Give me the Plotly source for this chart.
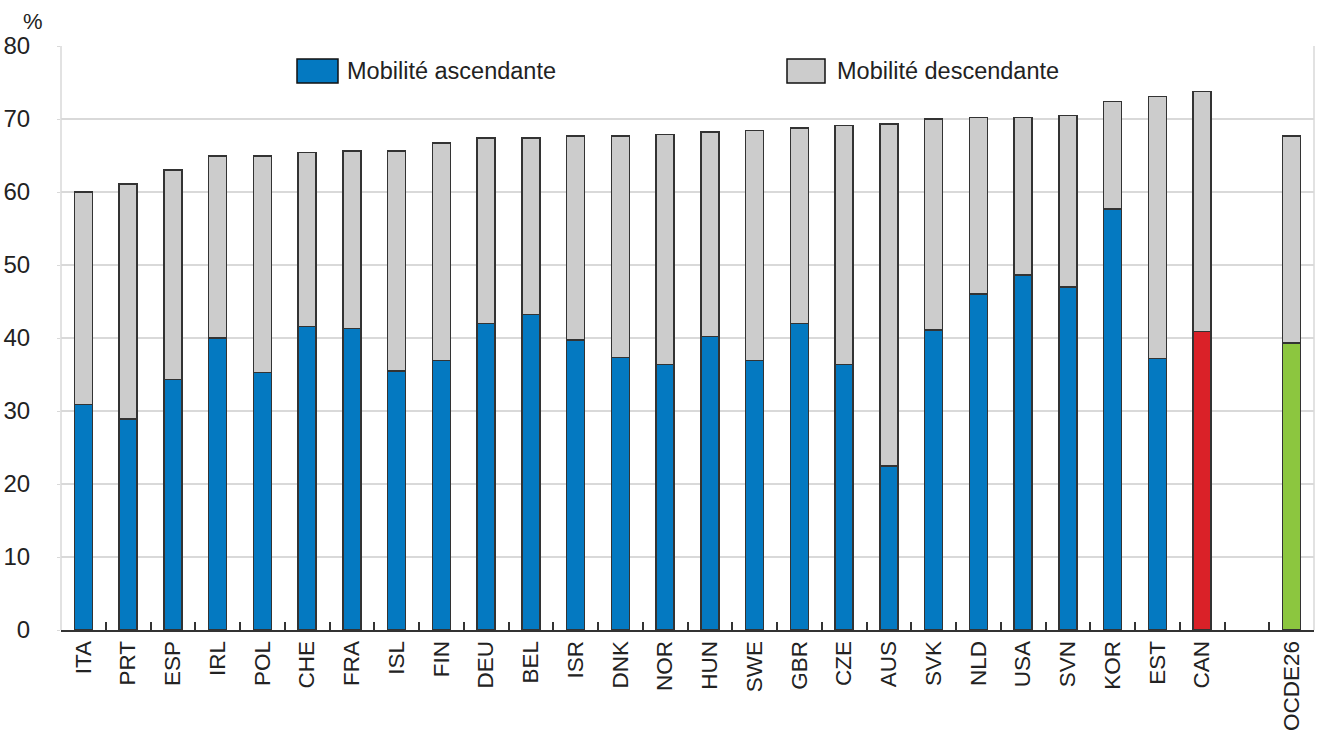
import plotly.graph_objects as go

categories = ["ITA", "PRT", "ESP", "IRL", "POL", "CHE", "FRA", "ISL", "FIN", "DEU",
              "BEL", "ISR", "DNK", "NOR", "HUN", "SWE", "GBR", "CZE", "AUS", "SVK",
              "NLD", "USA", "SVN", "KOR", "EST", "CAN", " ", "OCDE26"]

# Upward mobility (%)
ascendante = [30.9, 28.9, 34.3, 40.0, 35.3, 41.6, 41.3, 35.5, 36.9, 42.0,
              43.2, 39.7, 37.3, 36.4, 40.2, 36.9, 42.0, 36.4, 22.5, 41.1,
              46.0, 48.6, 47.0, 57.7, 37.2, 40.9, None, 39.3]

# Total mobility (upward + downward, %)
total = [60.0, 61.1, 63.0, 64.9, 64.9, 65.4, 65.6, 65.6, 66.7, 67.4,
         67.4, 67.7, 67.7, 67.9, 68.2, 68.4, 68.8, 69.1, 69.3, 70.0,
         70.2, 70.2, 70.5, 72.4, 73.1, 73.8, None, 67.7]

descendante = [None if (t is None or a is None) else round(t - a, 1)
               for t, a in zip(total, ascendante)]

BLUE = "#0479C1"
GREY = "#CCCCCC"
RED = "#DA2128"
GREEN = "#8CC63F"
EDGE = "#333333"

asc_colors = []
for c in categories:
    if c == "CAN":
        asc_colors.append(RED)
    elif c == "OCDE26":
        asc_colors.append(GREEN)
    else:
        asc_colors.append(BLUE)

FONT = "Liberation Sans, Arial, sans-serif"

fig = go.Figure()
fig.add_trace(go.Bar(
    x=categories, y=ascendante, name="Mobilité ascendante",
    marker=dict(color=asc_colors, line=dict(color=EDGE, width=1.5)),
    width=0.4,
))
fig.add_trace(go.Bar(
    x=categories, y=descendante, name="Mobilité descendante",
    marker=dict(color=GREY, line=dict(color=EDGE, width=1.5)),
    width=0.4,
))

L, R, T, B = 61, 1314, 46, 630
W = R - L
H = B - T

def px(x):
    return (x - L) / W

def py(y):
    return (B - y) / H

shapes = [
    dict(type="line", xref="paper", yref="paper", x0=0, x1=0, y0=0, y1=1,
         line=dict(color="#D9D9D9", width=1.5)),
    dict(type="line", xref="paper", yref="paper", x0=1, x1=1, y0=0, y1=1,
         line=dict(color="#D9D9D9", width=1.5)),
    dict(type="rect", xref="paper", yref="paper",
         x0=px(297), x1=px(338), y0=py(83), y1=py(59),
         fillcolor=BLUE, line=dict(color="#111111", width=1.5)),
    dict(type="rect", xref="paper", yref="paper",
         x0=px(787), x1=px(825), y0=py(83), y1=py(59),
         fillcolor=GREY, line=dict(color="#111111", width=1.5)),
]

annotations = [
    dict(text="Mobilité ascendante", xref="paper", yref="paper",
         x=px(345), y=py(71), xanchor="left", yanchor="middle", showarrow=False,
         font=dict(family=FONT, size=23.5, color="#222222")),
    dict(text="Mobilité descendante", xref="paper", yref="paper",
         x=px(835), y=py(71), xanchor="left", yanchor="middle", showarrow=False,
         font=dict(family=FONT, size=23.5, color="#222222")),
    dict(text="%", xref="paper", yref="paper",
         x=px(33), y=py(21), xanchor="center", yanchor="middle", showarrow=False,
         font=dict(family=FONT, size=22, color="#222222")),
]

fig.update_layout(
    width=1320, height=731,
    margin=dict(l=L, r=1320 - R, t=T, b=731 - B, autoexpand=False),
    paper_bgcolor="white", plot_bgcolor="white",
    barmode="stack", showlegend=False,
    font=dict(family=FONT, size=23, color="#222222"),
    shapes=shapes, annotations=annotations,
    xaxis=dict(
        type="category", categoryorder="array", categoryarray=categories,
        tickangle=-90, tickson="boundaries", ticks="inside", ticklen=8,
        tickwidth=1.5, tickcolor="#333333",
        showline=True, linecolor="#333333", linewidth=2,
        showgrid=False, automargin=False,
        tickfont=dict(family=FONT, size=22.5, color="#222222"),
        range=[-0.5, len(categories) - 0.5],
    ),
    yaxis=dict(
        range=[0, 80], dtick=10, tick0=0,
        showgrid=True, gridcolor="#D9D9D9", gridwidth=1.5,
        zeroline=False, showline=False,
        ticks="outside", ticklen=3, tickcolor="#D9D9D9",
        ticklabelstandoff=22, automargin=False,
        tickfont=dict(family=FONT, size=24, color="#222222"),
    ),
)

fig.write_html(
    "out.html",
    config={"displayModeBar": False},
    post_script="document.body.style.margin='0';document.body.style.padding='0';",
)
